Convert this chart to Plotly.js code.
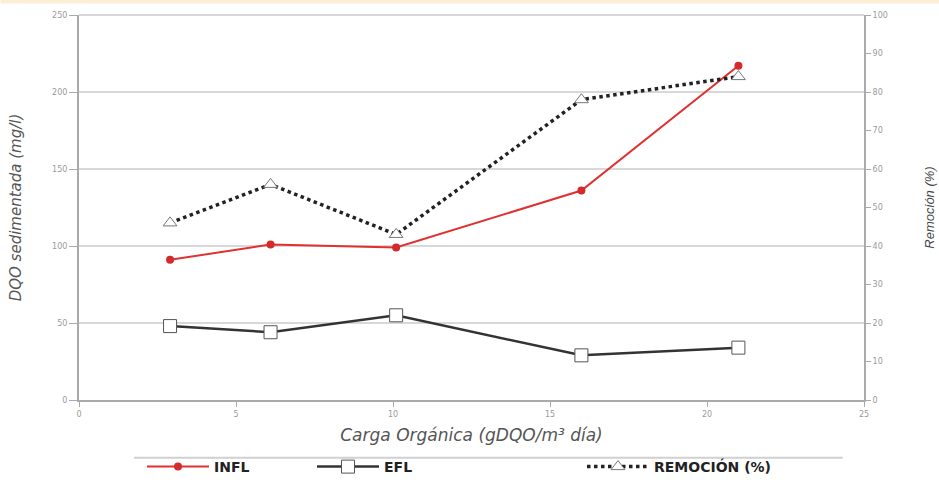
<!DOCTYPE html>
<html>
<head>
<meta charset="utf-8">
<script src="https://cdn.plot.ly/plotly-3.0.1.min.js"></script>
<style>html,body{margin:0;padding:0;background:#fff;}#chart{width:939px;height:486px;}</style>
</head>
<body>
<div id="chart"></div>
<script>
const cargaOrganica = [2.9, 6.1, 10.1, 16.0, 21.0];
const infl = [91, 101, 99, 136, 217];
const efl = [48, 44, 55, 29, 34];
const remocion = [46, 56, 43, 78, 84];
const leftTicks = [0, 50, 100, 150, 200, 250];
const rightTicks = [0, 10, 20, 30, 40, 50, 60, 70, 80, 90, 100];
const xTicks = [0, 5, 10, 15, 20, 25];

const traces = [
  {x: cargaOrganica, y: infl, name: 'INFL', type: 'scatter', mode: 'lines+markers', legend: 'legend',
   line: {color: '#e03030', width: 2}, marker: {color: '#d42a2a', size: 8, symbol: 'circle'}},
  {x: cargaOrganica, y: efl, name: 'EFL', type: 'scatter', mode: 'lines+markers', legend: 'legend2',
   line: {color: '#333333', width: 2.5}, marker: {color: '#ffffff', size: 13, symbol: 'square', line: {color: '#555555', width: 1}}},
  {x: cargaOrganica, y: remocion, name: 'REMOCIÓN (%)', type: 'scatter', mode: 'lines+markers', yaxis: 'y2', legend: 'legend3',
   line: {color: '#222222', width: 3.5, dash: 'dot'}, marker: {color: '#ffffff', size: 12, symbol: 'triangle-up', line: {color: '#777777', width: 1}}}
];

const tickFont = {family: 'DejaVu Sans, sans-serif', size: 8, color: '#9a9a9a'};
const titleFontX = {family: 'DejaVu Sans, sans-serif', size: 17, color: '#555555', style: 'italic'};
const titleFontL = {family: 'DejaVu Sans, sans-serif', size: 15, color: '#555555', style: 'italic'};
const titleFontR = {family: 'Liberation Sans, Arial, sans-serif', size: 13, color: '#444444', style: 'italic'};
const legendFont = {family: 'DejaVu Sans, sans-serif', size: 14, color: '#222222', weight: 'bold'};
function legendAt(px) {
  return {orientation: 'h', xref: 'container', yref: 'container', x: px / 939, xanchor: 'left',
          y: 1 - 467 / 486, yanchor: 'middle',
          font: legendFont, itemwidth: 62, bgcolor: 'rgba(0,0,0,0)'};
}

const layout = {
  width: 939, height: 486,
  margin: {l: 79, r: 75, t: 15, b: 86},
  paper_bgcolor: '#ffffff', plot_bgcolor: '#ffffff',
  showlegend: true,
  xaxis: {
    range: [0, 25], tickvals: xTicks, ticktext: xTicks.map(String), automargin: false,
    showgrid: false, zeroline: false, showline: true, linecolor: '#aaaaaa', linewidth: 2,
    ticks: 'outside', ticklen: 5, tickcolor: '#aaaaaa', tickfont: tickFont,
    title: {text: 'Carga Orgánica (gDQO/m³ día)', font: titleFontX, standoff: 12}
  },
  yaxis: {
    range: [0, 250], tickvals: leftTicks, ticktext: leftTicks.map(String), automargin: false,
    showgrid: true, gridcolor: '#d8d8d8', gridwidth: 2, zeroline: false,
    showline: true, linecolor: '#aaaaaa', linewidth: 2,
    ticks: 'outside', ticklen: 8, tickcolor: '#aaaaaa', tickfont: tickFont,
    title: {text: 'DQO sedimentada (mg/l)', font: titleFontL, standoff: 27}
  },
  yaxis2: {
    range: [0, 100], tickvals: rightTicks, ticktext: rightTicks.map(String), automargin: false,
    overlaying: 'y', side: 'right', showgrid: false, zeroline: false,
    showline: true, linecolor: '#aaaaaa', linewidth: 2,
    ticks: 'outside', ticklen: 5, tickcolor: '#aaaaaa', tickfont: tickFont,
    title: {text: 'Remoción (%)', font: titleFontR, standoff: 38}
  },
  legend: legendAt(142),
  legend2: legendAt(312),
  legend3: legendAt(582),
  shapes: [
    {type: 'line', xref: 'paper', yref: 'paper', x0: 0.07, x1: 0.973, y0: -0.15, y1: -0.15,
     line: {color: '#d0d0d0', width: 2}},
    {type: 'line', xref: 'paper', yref: 'paper', x0: 0, x1: 1, y0: 1, y1: 1,
     line: {color: '#d8d8d8', width: 2}},
    {type: 'rect', xref: 'paper', yref: 'paper', x0: -0.1, x1: 1.1, y0: 1.03, y1: 1.045,
     line: {width: 0}, fillcolor: '#fbefd6'}
  ]
};

Plotly.newPlot('chart', traces, layout, {displayModeBar: false, staticPlot: true});
</script>
</body>
</html>
